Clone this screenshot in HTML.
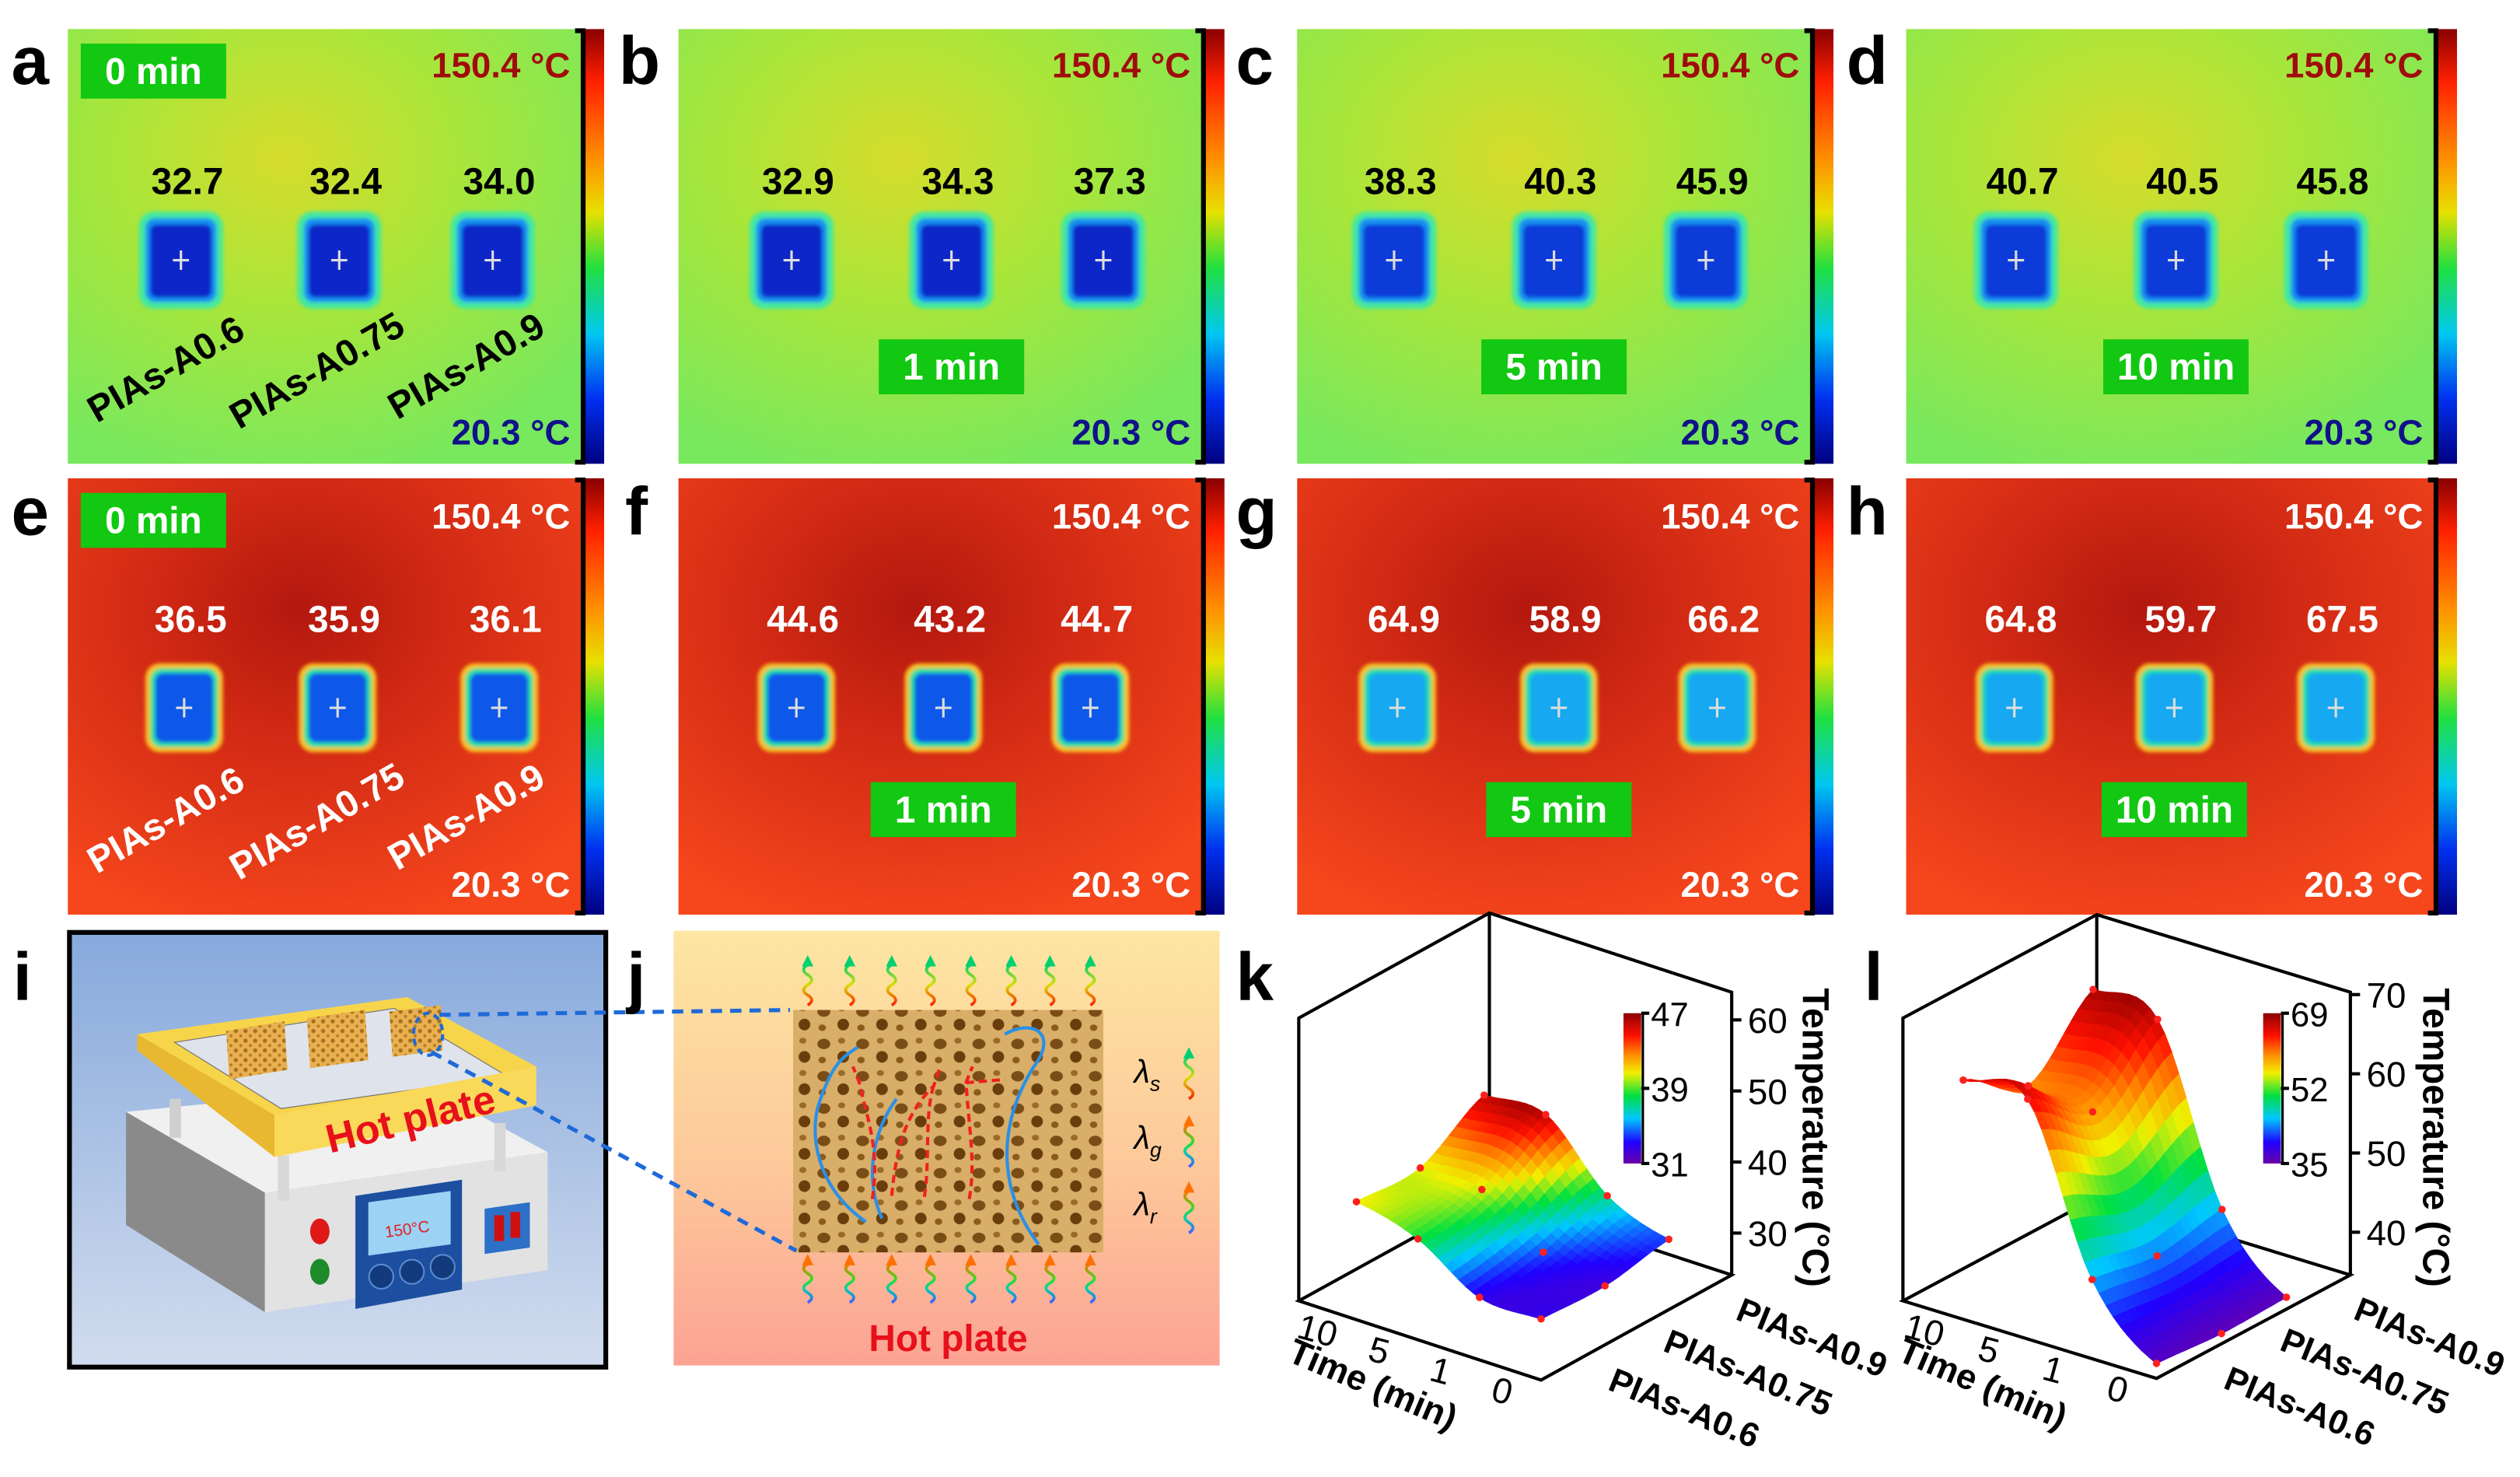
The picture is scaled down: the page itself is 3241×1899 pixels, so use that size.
<!DOCTYPE html>
<html><head><meta charset="utf-8"><title>Thermal insulation figure</title>
<style>
html,body{margin:0;padding:0;background:#fff;}
svg{display:block;font-family:"Liberation Sans",Arial,sans-serif;}
.lt{font-weight:bold;font-size:42px;fill:#000;}
.b{font-weight:bold;}
</style></head>
<body>
<svg id="fig" xmlns="http://www.w3.org/2000/svg" width="3241" height="1899" viewBox="0 0 1560 914" preserveAspectRatio="none">
<defs>
  <radialGradient id="bg1" cx="0.42" cy="0.3" r="0.75">
    <stop offset="0" stop-color="#d6dc2c"/><stop offset="0.45" stop-color="#a9e63a"/><stop offset="1" stop-color="#78e85e"/>
  </radialGradient>
  <radialGradient id="bg2" cx="0.45" cy="0.3" r="0.75">
    <stop offset="0" stop-color="#b3180e"/><stop offset="0.4" stop-color="#d22a14"/><stop offset="1" stop-color="#f5461c"/>
  </radialGradient>
  <linearGradient id="cbar" x1="0" y1="0" x2="0" y2="1">
    <stop offset="0" stop-color="#8a0000"/><stop offset="0.12" stop-color="#ff2000"/><stop offset="0.3" stop-color="#ff9000"/>
    <stop offset="0.42" stop-color="#e8e000"/><stop offset="0.55" stop-color="#20e040"/><stop offset="0.7" stop-color="#00c8f0"/>
    <stop offset="0.85" stop-color="#0030f0"/><stop offset="1" stop-color="#000080"/>
  </linearGradient>
  <linearGradient id="cbar3" x1="0" y1="0" x2="0" y2="1">
    <stop offset="0" stop-color="#8a0000"/><stop offset="0.15" stop-color="#ff1000"/><stop offset="0.28" stop-color="#ff9000"/>
    <stop offset="0.4" stop-color="#f0f000"/><stop offset="0.55" stop-color="#00e040"/><stop offset="0.7" stop-color="#00c8ff"/>
    <stop offset="0.86" stop-color="#2000ff"/><stop offset="1" stop-color="#6a00a8"/>
  </linearGradient>
  <linearGradient id="bgI" x1="0" y1="0" x2="0" y2="1">
    <stop offset="0" stop-color="#86a9dc"/><stop offset="1" stop-color="#d2dcee"/>
  </linearGradient>
  <linearGradient id="bgJ" x1="0" y1="0" x2="0" y2="1">
    <stop offset="0" stop-color="#fde6a2"/><stop offset="0.55" stop-color="#fdc89a"/><stop offset="1" stop-color="#fca394"/>
  </linearGradient>
  <linearGradient id="waveTop" x1="0" y1="1" x2="0" y2="0">
    <stop offset="0" stop-color="#ff2000"/><stop offset="0.5" stop-color="#d8e000"/><stop offset="1" stop-color="#00d070"/>
  </linearGradient>
  <linearGradient id="waveBot" x1="0" y1="1" x2="0" y2="0">
    <stop offset="0" stop-color="#4060ff"/><stop offset="0.35" stop-color="#00d0b0"/><stop offset="0.6" stop-color="#30e020"/><stop offset="1" stop-color="#ff7000"/>
  </linearGradient>
  <pattern id="foam" width="24" height="20" patternUnits="userSpaceOnUse">
    <rect width="24" height="20" fill="#d8ae68"/>
    <ellipse cx="6" cy="6" rx="4" ry="3.2" fill="#7a4c16"/>
    <ellipse cx="18" cy="14" rx="3.6" ry="3.6" fill="#6a3e0c"/>
    <ellipse cx="17" cy="4" rx="2.2" ry="1.8" fill="#9a6a28"/>
    <ellipse cx="5" cy="16" rx="2.3" ry="2" fill="#8a5c1c"/>
  </pattern>
  <pattern id="foamS" width="6" height="6" patternUnits="userSpaceOnUse">
    <rect width="6" height="6" fill="#e8b050"/>
    <circle cx="2" cy="2" r="1.3" fill="#a8701c"/><circle cx="5" cy="5" r="1" fill="#b87c20"/>
  </pattern>
  <filter id="soft" x="-20%" y="-20%" width="140%" height="140%"><feGaussianBlur stdDeviation="1.1"/></filter>
</defs>

<!-- panel i -->
<g>
  <rect x="43" y="577" width="332" height="269" fill="url(#bgI)" stroke="#000" stroke-width="3"/>
  <polygon points="78,688 164,738 164,812 78,758" fill="#8a8a8a"/>
  <polygon points="164,738 339,713 339,786 164,812" fill="#e2e2e2"/>
  <polygon points="78,688 164,738 339,713 260,670" fill="#f0f0f0"/>
  <rect x="105" y="680" width="7" height="24" fill="#cfcfcf"/>
  <rect x="172" y="715" width="7" height="28" fill="#d8d8d8"/>
  <rect x="306" y="695" width="7" height="30" fill="#d8d8d8"/>
  <polygon points="85,640 252,617 332,660 170,690" fill="#f7d54a"/>
  <polygon points="108,645 244,624 314,666 174,686" fill="#dfe4ec" stroke="#777" stroke-width="0.6"/>
  <polygon points="85,640 170,690 170,716 85,650" fill="#e8b830"/>
  <polygon points="170,690 332,660 332,684 170,716" fill="#fad85a"/>
  <text x="254" y="701" text-anchor="middle" transform="rotate(-14 254 692)" font-size="25" class="b" fill="#e8101a">Hot plate</text>
  <polygon points="140,638 176,632 178,662 142,668" fill="url(#foamS)"/>
  <polygon points="190,630 226,625 228,656 192,661" fill="url(#foamS)"/>
  <polygon points="241,626 273,622 274,650 243,654" fill="url(#foamS)"/>
  <ellipse cx="265" cy="640" rx="9" ry="13" fill="none" stroke="#1e6ad8" stroke-width="2" stroke-dasharray="4 3"/>
  <polygon points="220,740 286,730 286,798 220,810" fill="#1c4fa0"/>
  <polygon points="228,744 279,737 279,770 228,777" fill="#9cd2f4"/>
  <text x="252" y="764" text-anchor="middle" font-size="10" fill="#e02020" transform="rotate(-8 252 760)">150°C</text>
  <circle cx="236" cy="790" r="7.5" fill="#123a7c" stroke="#5a8ad0"/>
  <circle cx="255" cy="787" r="7.5" fill="#123a7c" stroke="#5a8ad0"/>
  <circle cx="274" cy="784" r="7.5" fill="#123a7c" stroke="#5a8ad0"/>
  <ellipse cx="198" cy="762" rx="6" ry="8" fill="#e01818"/>
  <ellipse cx="198" cy="787" rx="6" ry="8" fill="#1e8a2a"/>
  <polygon points="300,748 328,744 328,772 300,776" fill="#2c70c8"/>
  <rect x="306" y="752" width="6" height="16" fill="#d01010"/>
  <rect x="316" y="750" width="6" height="16" fill="#d01010"/>
</g>

<!-- panel j -->
<g>
  <rect x="417" y="576" width="338" height="269" fill="url(#bgJ)"/>
  <rect x="491" y="625" width="192" height="150" fill="url(#foam)"/>
  <path d="M536,756 C505,735 500,700 508,680 C515,660 520,655 531,648" fill="none" stroke="#2a90e8" stroke-width="2"/>
  <path d="M643,770 C620,740 615,700 640,660 C655,640 640,630 622,640" fill="none" stroke="#2a90e8" stroke-width="2"/>
  <path d="M546,754 C535,730 540,700 555,680" fill="none" stroke="#2a90e8" stroke-width="2"/>
  <path d="M540,742 C545,710 536,690 532,670 L528,660 M552,740 C555,710 560,690 578,672 L582,660 M578,672 C572,690 576,720 572,742 M600,742 C604,720 600,700 598,670 L602,660 M598,670 L622,668" fill="none" stroke="#f02020" stroke-width="2" stroke-dasharray="5 3"/>
  <text x="702" y="670" font-size="20" font-style="italic">λ<tspan font-size="13" dy="5">s</tspan></text>
  <text x="702" y="711" font-size="20" font-style="italic">λ<tspan font-size="13" dy="5">g</tspan></text>
  <text x="702" y="752" font-size="20" font-style="italic">λ<tspan font-size="13" dy="5">r</tspan></text>
  <text x="587" y="836" text-anchor="middle" font-size="23" class="b" fill="#e8101a">Hot plate</text>
  <g id="waves"></g>
</g>
<line x1="272" y1="628" x2="489" y2="625" stroke="#1e6ad8" stroke-width="2.5" stroke-dasharray="7 5"/>
<line x1="267" y1="651" x2="493" y2="774" stroke="#1e6ad8" stroke-width="2.5" stroke-dasharray="7 5"/>

<g id="thermal"></g>
<g id="chartK"></g>
<g id="chartL"></g>

<g>
  <text class="lt" x="7" y="52">a</text>
  <text class="lt" x="383" y="52">b</text>
  <text class="lt" x="765" y="52">c</text>
  <text class="lt" x="1143" y="52">d</text>
  <text class="lt" x="7" y="331">e</text>
  <text class="lt" x="387" y="331">f</text>
  <text class="lt" x="765" y="331">g</text>
  <text class="lt" x="1143" y="331">h</text>
  <text class="lt" x="8" y="619">i</text>
  <text class="lt" x="388" y="619">j</text>
  <text class="lt" x="765" y="619">k</text>
  <text class="lt" x="1154" y="619">l</text>
</g>
</svg>

<script>
// ---- chart data ----
const timeCats = ['0', '1', '5', '10'];
const sampleCats = ['PIAs-A0.6', 'PIAs-A0.75', 'PIAs-A0.9'];
const kA06 = [32.7, 32.9, 38.3, 40.7];
const kA075 = [32.4, 34.3, 40.3, 40.5];
const kA09 = [34.0, 37.3, 45.9, 45.8];
const lA06 = [36.5, 44.6, 64.9, 64.8];
const lA075 = [35.9, 43.2, 58.9, 59.7];
const lA09 = [36.1, 44.7, 66.2, 67.5];
const kZTicks = [30, 40, 50, 60];
const lZTicks = [40, 50, 60, 70];
const kCbarTicks = [31, 39, 47];
const lCbarTicks = [35, 52, 69];
// thermal image readings
const timeLabels = ['0 min', '1 min', '5 min', '10 min'];
const row1Vals = [['32.7','32.4','34.0'],['32.9','34.3','37.3'],['38.3','40.3','45.9'],['40.7','40.5','45.8']];
const row2Vals = [['36.5','35.9','36.1'],['44.6','43.2','44.7'],['64.9','58.9','66.2'],['64.8','59.7','67.5']];

const NS = 'http://www.w3.org/2000/svg';
function mk(tag, attrs, parent) {
  const e = document.createElementNS(NS, tag);
  for (const k in attrs) e.setAttribute(k, attrs[k]);
  parent.appendChild(e);
  return e;
}

// ---- wavy arrows in panel j ----
(function () {
  const g = document.getElementById('waves');
  const xs = [500, 526, 552, 576, 601, 626, 650, 675];
  function wave(x, y0, y1, grad, name) {
    let d = 'M' + x + ',' + y0;
    const n = 4, step = (y0 - y1 - 6) / n;
    for (let i = 0; i < n; i++) {
      const ya = y0 - step * i, yb = ya - step;
      const dx = (i % 2 ? -5 : 5);
      d += ' Q' + (x + dx) + ',' + (ya - step / 2) + ' ' + x + ',' + yb;
    }
    const p = mk('path', {d: d, fill: 'none', stroke: 'url(#' + grad + ')', 'stroke-width': 1.8}, g);
    
    
    const col = grad === 'waveTop' ? '#00d070' : '#ff7000';
    const h = mk('polygon', {points: (x - 3.5) + ',' + (y1 + 7) + ' ' + (x + 3.5) + ',' + (y1 + 7) + ' ' + x + ',' + y1, fill: col}, g);
    
    
  }
  xs.forEach(function (x, i) { wave(x, 622, 591, 'waveTop', 'top-radiation-arrow-' + i); });
  xs.forEach(function (x, i) { wave(x, 806, 776, 'waveBot', 'bottom-radiation-arrow-' + i); });
  wave(736, 680, 648, 'waveTop', 'legend-arrow-solid');
  wave(736, 722, 690, 'waveBot', 'legend-arrow-gas');
  wave(736, 763, 731, 'waveBot', 'legend-arrow-radiation');
})();

// ---- thermal images ----
(function () {
  const root = document.getElementById('thermal');
  const letters = ['a','b','c','d','e','f','g','h'];
  const px = [42, 420, 803, 1180];
  const pw = [319, 325, 319, 328];
  const cxs = [[112,210,305],[490,589,683],[863,962,1056],[1248,1347,1440]];
  const cxs2 = [[114,209,309],[493,584,675],[865,965,1063],[1247,1346,1446]];
  for (let r = 0; r < 2; r++) {
    for (let c = 0; c < 4; c++) {
      const L = letters[r * 4 + c];
      const x = px[c], w = pw[c];
      const y = r === 0 ? 18 : 296, h = r === 0 ? 269 : 270;
      const g = mk('g', {}, root);
      
      
      const bg = mk('rect', {x: x, y: y, width: w, height: h, fill: r === 0 ? 'url(#bg1)' : 'url(#bg2)'}, g);
      
      
      const cb = mk('rect', {x: x + w + 1, y: y, width: 12, height: h, fill: 'url(#cbar)'}, g);
      
      
      const br = mk('path', {d: 'M' + (x + w - 5) + ',' + (y + 1) + ' H' + (x + w) + ' V' + (y + h - 1) + ' H' + (x + w - 5), fill: 'none', stroke: '#000', 'stroke-width': 3}, g);
      
      
      const centers = r === 0 ? cxs[c] : cxs2[c];
      const vals = r === 0 ? row1Vals[c] : row2Vals[c];
      const cy = r === 0 ? 161 : 438;
      const sw = r === 0 ? 52 : 48, sh = r === 0 ? 60 : 55;
      centers.forEach(function (cx, i) {
        const sg = mk('g', {filter: 'url(#soft)'}, g);
        
        
        if (r === 0) {
          mk('rect', {x: cx - sw / 2, y: cy - sh / 2, width: sw, height: sh, rx: 9, fill: '#44e8a0'}, sg);
          mk('rect', {x: cx - sw / 2 + 4, y: cy - sh / 2 + 4, width: sw - 8, height: sh - 8, rx: 6, fill: '#1890f0'}, sg);
          mk('rect', {x: cx - sw / 2 + 7, y: cy - sh / 2 + 8, width: sw - 14, height: sh - 15, rx: 4, fill: c < 2 ? '#0828c8' : '#0a3ad8'}, sg);
        } else {
          const inner = c < 2 ? '#0a58e8' : '#18a8f0';
          mk('rect', {x: cx - sw / 2, y: cy - sh / 2, width: sw, height: sh, rx: 9, fill: '#f8c020'}, sg);
          mk('rect', {x: cx - sw / 2 + 3, y: cy - sh / 2 + 3, width: sw - 6, height: sh - 6, rx: 7, fill: '#28e0a0'}, sg);
          mk('rect', {x: cx - sw / 2 + 6, y: cy - sh / 2 + 6, width: sw - 12, height: sh - 12, rx: 5, fill: inner}, sg);
        }
        const cr = mk('path', {d: 'M' + (cx - 5) + ',' + cy + ' H' + (cx + 5) + ' M' + cx + ',' + (cy - 6) + ' V' + (cy + 6), stroke: '#ddd', 'stroke-width': 1.5}, g);
        
        
        const t = mk('text', {x: cx + 4, y: r === 0 ? 120 : 391, 'text-anchor': 'middle', 'font-size': 23, 'font-weight': 'bold', fill: r === 0 ? '#000' : '#fff'}, g);
        t.textContent = vals[i];
        
        
      });
      let bx, by;
      if (c === 0) { bx = x + 8; by = r === 0 ? 27 : 305; }
      else { bx = centers[1] - 45; by = r === 0 ? 210 : 484; }
      const tb = mk('rect', {x: bx, y: by, width: 90, height: 34, fill: '#12c812'}, g);
      
      
      const tt = mk('text', {x: bx + 45, y: by + 25, 'text-anchor': 'middle', 'font-size': 23, 'font-weight': 'bold', fill: '#fff'}, g);
      tt.textContent = timeLabels[c];
      
      
      const hi = mk('text', {x: x + w - 8, y: r === 0 ? 48 : 327, 'text-anchor': 'end', 'font-size': 22, 'font-weight': 'bold', fill: r === 0 ? '#a00c0c' : '#fff'}, g);
      hi.textContent = '150.4 °C';
      
      
      const lo = mk('text', {x: x + w - 8, y: r === 0 ? 275 : 555, 'text-anchor': 'end', 'font-size': 22, 'font-weight': 'bold', fill: r === 0 ? '#10128a' : '#fff'}, g);
      lo.textContent = '20.3 °C';
      
      
      if (c === 0) {
        const starts = [[60, 262], [148, 266], [246, 260]];
        sampleCats.forEach(function (s, i) {
          const sx = starts[i][0], sy = starts[i][1] + (r === 0 ? 0 : 279);
          const st = mk('text', {x: sx, y: sy, 'font-size': 23, 'font-weight': 'bold', fill: r === 0 ? '#000' : '#fff', transform: 'rotate(-30 ' + sx + ' ' + sy + ')'}, g);
          st.textContent = s;
          
          
        });
      }
    }
  }
})();

// ---- 3D surface charts ----
const cmapStops = [[0, [106, 0, 168]], [0.14, [32, 0, 255]], [0.3, [0, 200, 255]], [0.45, [0, 224, 64]], [0.6, [240, 240, 0]], [0.72, [255, 144, 0]], [0.85, [255, 16, 0]], [1, [138, 0, 0]]];
function cmap(t) {
  t = Math.max(0, Math.min(1, t));
  for (let i = 1; i < cmapStops.length; i++) {
    if (t <= cmapStops[i][0]) {
      const a = cmapStops[i - 1], b = cmapStops[i], f = (t - a[0]) / (b[0] - a[0]);
      const c = a[1].map(function (v, k) { return Math.round(v + (b[1][k] - v) * f); });
      return 'rgb(' + c.join(',') + ')';
    }
  }
  return 'rgb(138,0,0)';
}
function crInterp(arr, t) {
  const n = arr.length;
  let i = Math.floor(t); if (i > n - 2) i = n - 2; if (i < 0) i = 0;
  const f = t - i;
  const p0 = arr[Math.max(i - 1, 0)], p1 = arr[i], p2 = arr[i + 1], p3 = arr[Math.min(i + 2, n - 1)];
  return 0.5 * (2 * p1 + (-p0 + p2) * f + (2 * p0 - 5 * p1 + 4 * p2 - p3) * f * f + (-p0 + 3 * p1 - 3 * p2 + p3) * f * f * f);
}

function drawChart(root, cfg, series, zTicks, cTicks, id) {
  const F = cfg.F, T = cfg.T, S = cfg.S, H = cfg.H;
  function xScale(ti) { return ti * 0.254; }
  function yScale(si) { return si * 0.335; }
  function zScale(z) { return H * (z - cfg.zmin) / (cfg.zmax - cfg.zmin); }
  function proj(u, v, z) { return [F[0] + T[0] * u + S[0] * v, F[1] + T[1] * u + S[1] * v - zScale(z)]; }
  function pt(p) { return p[0].toFixed(1) + ',' + p[1].toFixed(1); }
  const zmin = cfg.zmin, zmax = cfg.zmax;
  const Lb = proj(1, 0, zmin), Rb = proj(0, 1, zmin), Bb = proj(1, 1, zmin), Fb = proj(0, 0, zmin);
  const Lt = proj(1, 0, zmax), Rt = proj(0, 1, zmax), Bt = proj(1, 1, zmax);
  const box = mk('path', {d: 'M' + pt(Lb) + ' L' + pt(Lt) + ' L' + pt(Bt) + ' L' + pt(Rt) + ' L' + pt(Rb) + ' M' + pt(Bt) + ' L' + pt(Bb) + ' M' + pt(Lb) + ' L' + pt(Bb) + ' L' + pt(Rb) + ' L' + pt(Fb) + ' Z', fill: 'none', stroke: '#000', 'stroke-width': 2}, root);
  
  

  function zAt(a, b) {
    const col = series.map(function (s) { return crInterp(s, a); });
    return crInterp(col, b);
  }
  const NA = 27, NB = 18, nT = series[0].length - 1, nS = series.length - 1;
  const quads = [];
  for (let i = 0; i < NA; i++) for (let j = 0; j < NB; j++) {
    const a0 = nT * i / NA, a1 = nT * (i + 1) / NA, b0 = nS * j / NB, b1 = nS * (j + 1) / NB;
    const z00 = zAt(a0, b0), z10 = zAt(a1, b0), z11 = zAt(a1, b1), z01 = zAt(a0, b1);
    quads.push({d: xScale((a0 + a1) / 2) + yScale((b0 + b1) / 2),
      pts: [proj(xScale(a0), yScale(b0), z00), proj(xScale(a1), yScale(b0), z10), proj(xScale(a1), yScale(b1), z11), proj(xScale(a0), yScale(b1), z01)],
      z: (z00 + z10 + z11 + z01) / 4});
  }
  quads.sort(function (p, q) { return q.d - p.d; });
  const sg = mk('g', {}, root);
  
  
  quads.forEach(function (q) {
    const col = cmap((q.z - cfg.cmin) / (cfg.cmax - cfg.cmin));
    const poly = mk('polygon', {points: q.pts.map(pt).join(' '), fill: col, stroke: col, 'stroke-width': 0.7}, sg);
    
    
  });
  series.forEach(function (s, j) {
    s.forEach(function (z, i) {
      const p = proj(xScale(i), yScale(j), z);
      const c = mk('circle', {cx: p[0], cy: p[1], r: 2.3, fill: '#ff2020'}, root);
      
      
    });
  });
  zTicks.forEach(function (z) {
    const p = proj(0, 1, z);
    const tk = mk('line', {x1: p[0], y1: p[1], x2: p[0] + 6, y2: p[1], stroke: '#000', 'stroke-width': 2}, root);
    
    
    const tl = mk('text', {x: p[0] + 10, y: p[1] + 8, 'font-size': 22, fill: '#000'}, root);
    tl.textContent = z;
    
    
  });
  const zt = mk('text', {x: cfg.zTitleX, y: 704, 'text-anchor': 'middle', 'font-size': 23, 'font-weight': 'bold', transform: 'rotate(90 ' + cfg.zTitleX + ' 704)'}, root);
  zt.textContent = 'Temperature (°C)';
  
  
  timeCats.forEach(function (t, i) {
    const p = proj(xScale(i), 0, zmin);
    const tl = mk('text', {x: p[0] - 26, y: p[1] + 14, 'text-anchor': 'middle', 'font-size': 22, transform: 'rotate(15 ' + (p[0] - 26) + ' ' + (p[1] + 14) + ')'}, root);
    tl.textContent = t;
    
    
  });
  const tp = proj(0.5, 0, zmin);
  const tx = tp[0] - 32, ty = tp[1] + 34;
  const tt = mk('text', {x: tx, y: ty, 'text-anchor': 'middle', 'font-size': 22, 'font-weight': 'bold', transform: 'rotate(23 ' + tx + ' ' + ty + ')'}, root);
  tt.textContent = 'Time (min)';
  
  
  sampleCats.forEach(function (s, j) {
    const p = proj(0, yScale(j), zmin);
    const sx = p[0] + 86, sy = p[1] + 24;
    const sl = mk('text', {x: sx, y: sy, 'text-anchor': 'middle', 'font-size': 21, 'font-weight': 'bold', transform: 'rotate(22 ' + sx + ' ' + sy + ')'}, root);
    sl.textContent = s;
    
    
  });
  const cb = mk('rect', {x: cfg.cbX, y: 627, width: 11, height: 93, fill: 'url(#cbar3)'}, root);
  
  
  cTicks.forEach(function (v) {
    const y = 720 - 93 * (v - cTicks[0]) / (cTicks[cTicks.length - 1] - cTicks[0]);
    const tk = mk('line', {x1: cfg.cbX + 11, y1: y, x2: cfg.cbX + 16, y2: y, stroke: '#000', 'stroke-width': 2}, root);
    
    
    const tl = mk('text', {x: cfg.cbX + 17, y: y + 8, 'font-size': 21}, root);
    tl.textContent = v;
    
    
  });
  const bl = mk('line', {x1: cfg.cbX + 12, y1: 627, x2: cfg.cbX + 12, y2: 720, stroke: '#000', 'stroke-width': 1.5}, root);
  
  
}

drawChart(document.getElementById('chartK'),
  {F: [954, 854], T: [-150, -49], S: [118, -65], H: 175, zmin: 24.1, zmax: 63.9, cmin: 31, cmax: 47, zTitleX: 1116, cbX: 1005},
  [kA06, kA075, kA09], kZTicks, kCbarTicks, 'chart-k');
drawChart(document.getElementById('chartL'),
  {F: [1335, 853], T: [-157, -48], S: [120, -64], H: 175, zmin: 34.6, zmax: 70.3, cmin: 35, cmax: 69, zTitleX: 1500, cbX: 1401},
  [lA06, lA075, lA09], lZTicks, lCbarTicks, 'chart-l');
</script>
</body></html>
